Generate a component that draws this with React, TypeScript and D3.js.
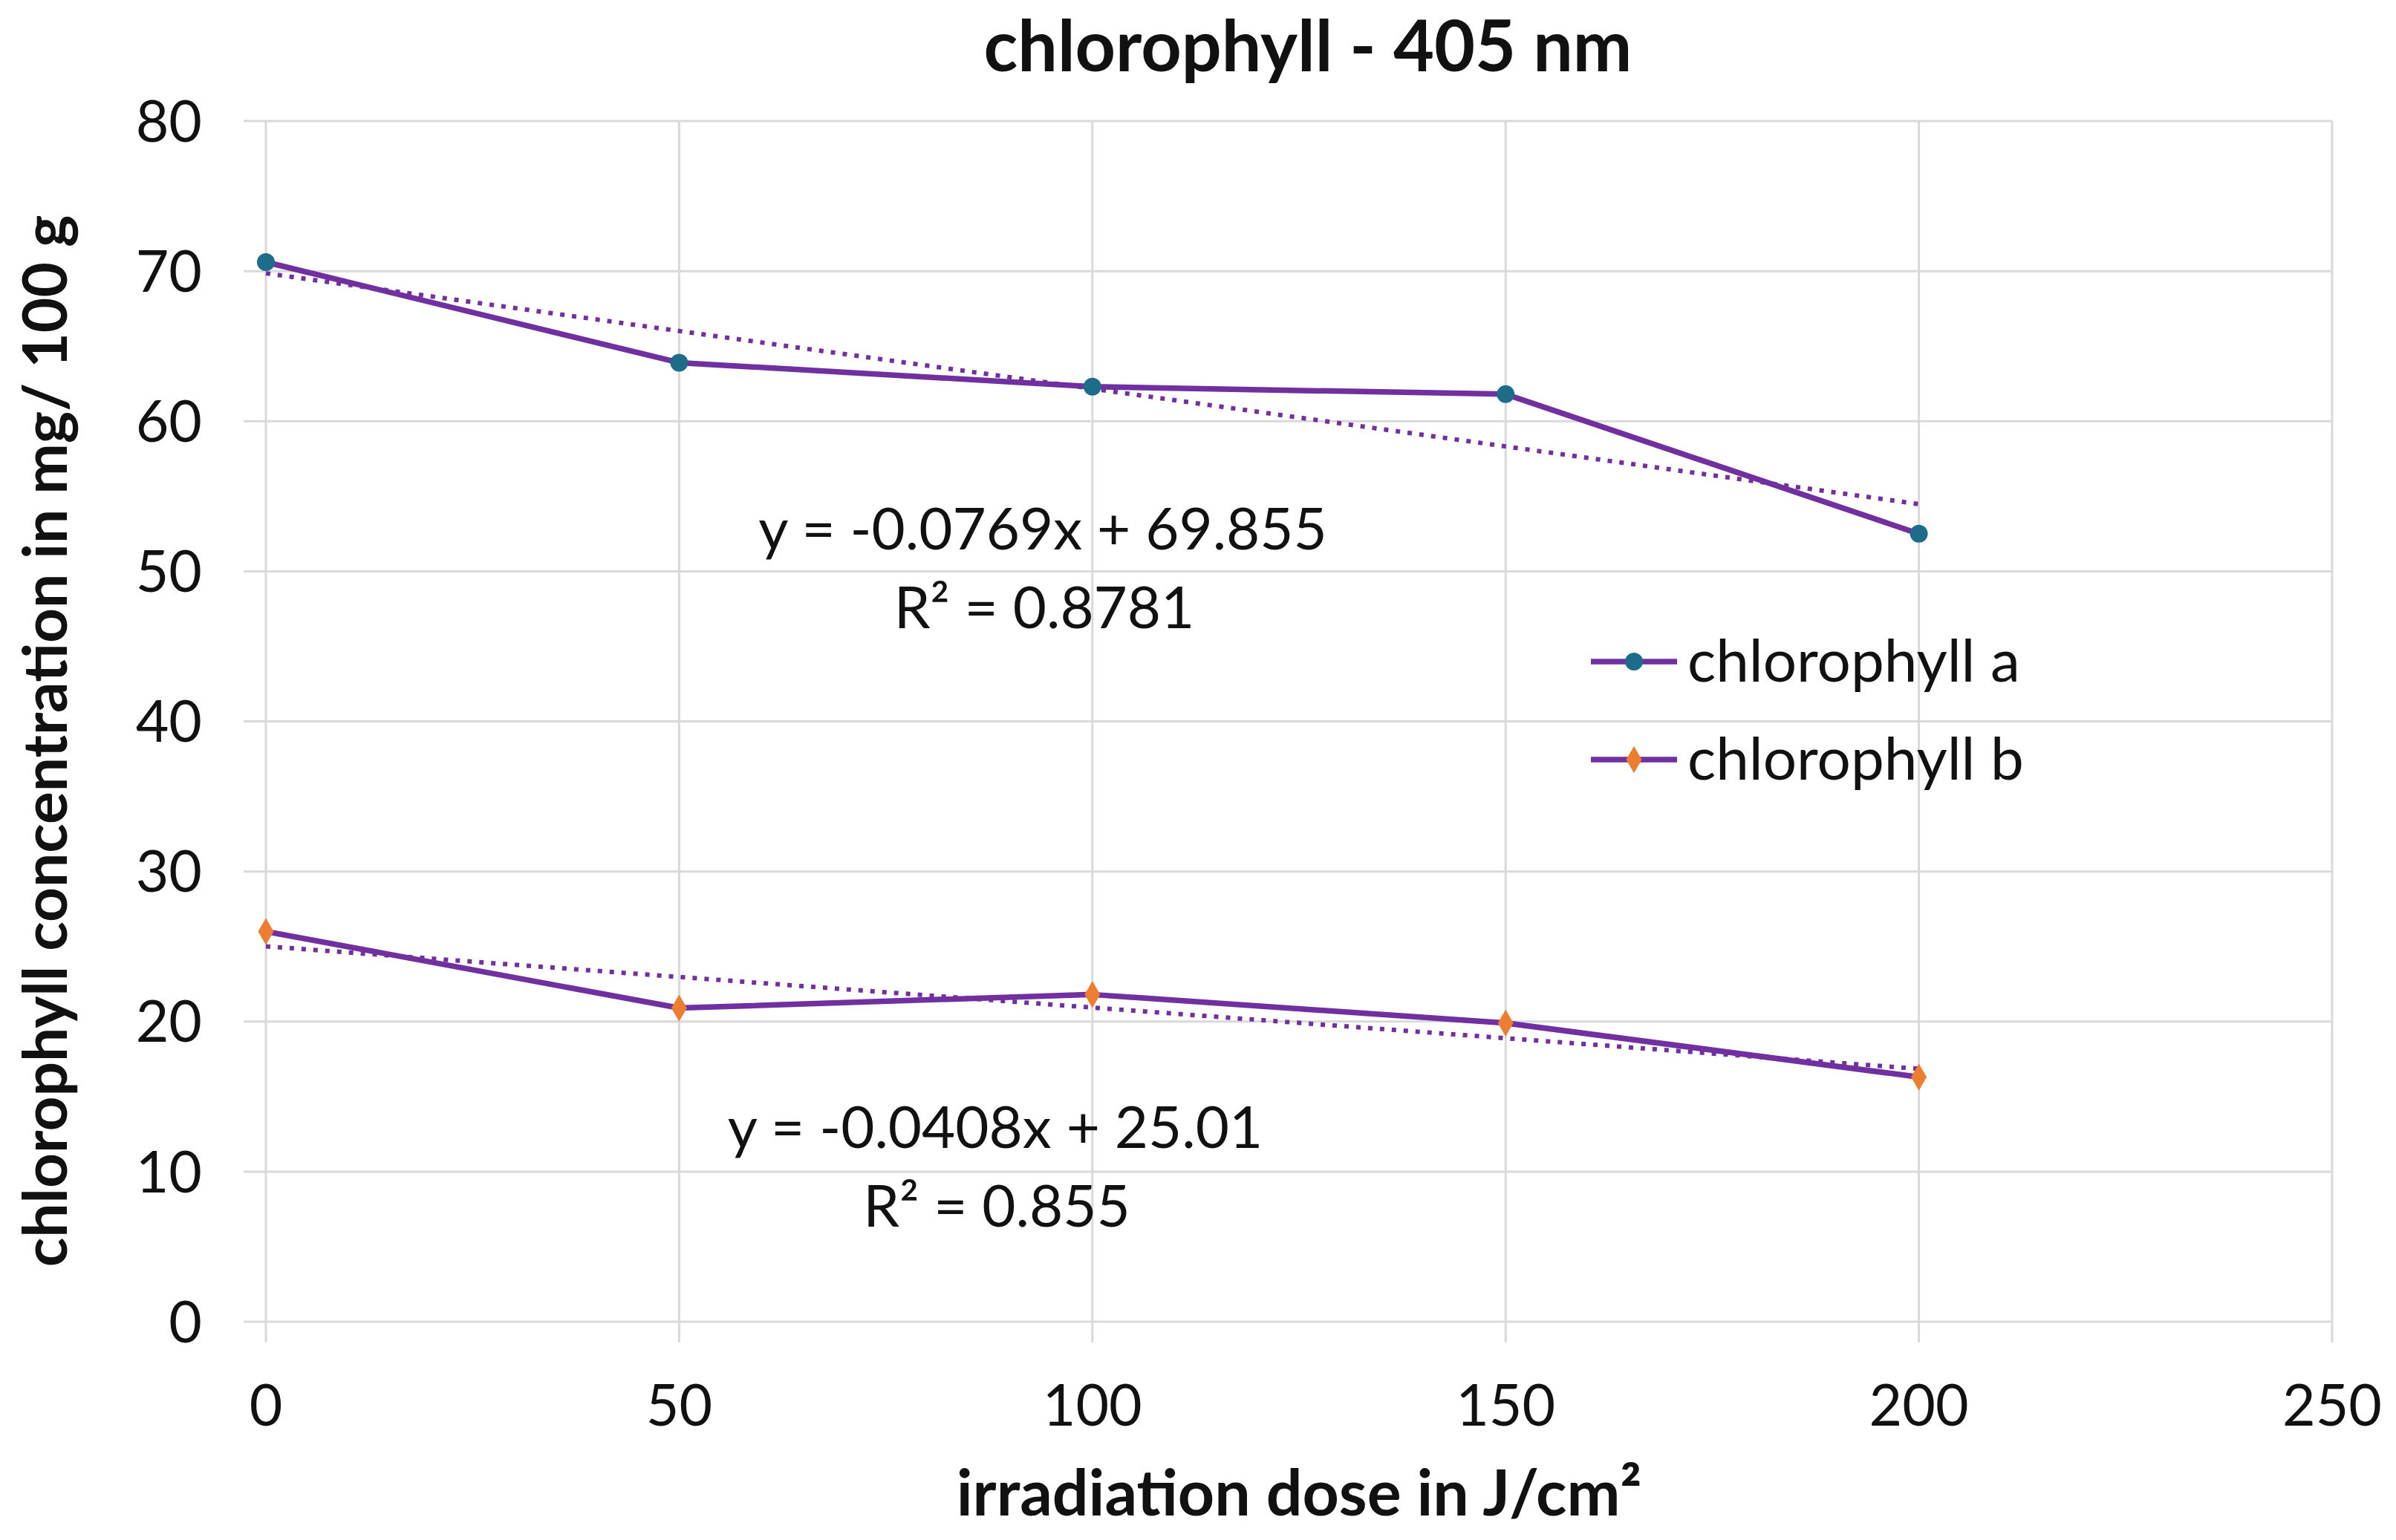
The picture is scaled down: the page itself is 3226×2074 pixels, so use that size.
import * as d3 from 'd3'

// irradiation dose (J/cm²)
const doses = [0, 50, 100, 150, 200]
// chlorophyll concentration (mg / 100 g)
const chlA = [70.6, 63.9, 62.3, 61.8, 52.5]
const chlB = [26.0, 20.9, 21.8, 19.9, 16.3]

const xTicks = [0, 50, 100, 150, 200, 250]
const yTicks = [0, 10, 20, 30, 40, 50, 60, 70, 80]

// linear trendlines as printed on the chart
const trendSlopes = [-0.0769, -0.0408]
const trendIntercepts = [69.855, 25.01]
const trendEquations = ['y = -0.0769x + 69.855', 'y = -0.0408x + 25.01']
const trendR2 = ['R² = 0.8781', 'R² = 0.855']

const seriesNames = ['chlorophyll a', 'chlorophyll b']

const W = 3226
const H = 2074
const margin = { top: 163, right: 86, bottom: 294, left: 358 }

const LINE = '#7030a0'
const MARK_A = '#1c6c8a'
const MARK_B = '#ed7d31'
const GRID = '#d9d9d9'
const FONT = 'Lato, "Open Sans", sans-serif'

export default function App() {
  const x = d3.scaleLinear().domain([0, 250]).range([margin.left, W - margin.right])
  const y = d3.scaleLinear().domain([0, 80]).range([H - margin.bottom, margin.top])

  const line = d3.line<number>()
    .x((_, i) => x(doses[i]))
    .y(d => y(d))

  const seriesData = [chlA, chlB]
  const diamond = d3.symbol().type(d3.symbolDiamond).size(380)

  const trendPath = (k: number) => {
    const x0 = doses[0]
    const x1 = doses[doses.length - 1]
    return `M${x(x0)},${y(trendIntercepts[k] + trendSlopes[k] * x0)}L${x(x1)},${y(trendIntercepts[k] + trendSlopes[k] * x1)}`
  }

  const marker = (k: number, cx: number, cy: number, key: string) =>
    k === 0
      ? <circle key={key} cx={cx} cy={cy} r={12} fill={MARK_A} />
      : <path key={key} d={diamond() || ''} transform={`translate(${cx},${cy})`} fill={MARK_B} />

  // label anchor positions (chart space) for the trend equations
  const eqPos = [
    { x: 1404, y: 740 },
    { x: 1340, y: 1546 },
  ]

  const legendX = 2142
  const legendY = [891, 1023]

  return (
    <div style={{ position: 'absolute', left: 0, top: 0 }}>
      <svg width={W} height={H} style={{ display: 'block', background: '#fff' }} fontFamily={FONT}>
        {/* grid */}
        <g>
          {yTicks.map(t => (
            <line key={'h' + t} x1={x(0) - 30} x2={x(250)} y1={y(t)} y2={y(t)} stroke={GRID} strokeWidth={3} />
          ))}
          {xTicks.map(t => (
            <line key={'v' + t} x1={x(t)} x2={x(t)} y1={y(80)} y2={y(0) + 28} stroke={GRID} strokeWidth={3} />
          ))}
        </g>

        {/* y tick labels */}
        {yTicks.map(t => (
          <text key={'yl' + t} x={272} y={y(t)} dy="0.36em" textAnchor="end" fontSize={77} fill="#111">{t}</text>
        ))}
        {/* x tick labels */}
        {xTicks.map(t => (
          <text key={'xl' + t} x={x(t)} y={1920} textAnchor="middle" fontSize={77} fill="#111">{t}</text>
        ))}

        {/* trendlines */}
        {[0, 1].map(k => (
          <path key={'t' + k} d={trendPath(k)} fill="none" stroke={LINE} strokeWidth={6} strokeDasharray="6 10" />
        ))}

        {/* series lines and markers */}
        {seriesData.map((s, k) => (
          <g key={'s' + k}>
            <path d={line(s) || ''} fill="none" stroke={LINE} strokeWidth={7.5} strokeLinejoin="round" />
            {s.map((v, i) => marker(k, x(doses[i]), y(v), `m${k}-${i}`))}
          </g>
        ))}

        {/* trend equations */}
        {[0, 1].map(k => (
          <g key={'eq' + k} fontSize={78} fill="#111" textAnchor="middle">
            <text x={eqPos[k].x} y={eqPos[k].y}>{trendEquations[k]}</text>
            <text x={eqPos[k].x + 2} y={eqPos[k].y + 106}>{trendR2[k]}</text>
          </g>
        ))}

        {/* legend */}
        {seriesNames.map((name, k) => (
          <g key={'lg' + k}>
            <line x1={legendX} x2={legendX + 116} y1={legendY[k]} y2={legendY[k]} stroke={LINE} strokeWidth={7.5} />
            {marker(k, legendX + 58, legendY[k], 'lm' + k)}
            <text x={legendX + 130} y={legendY[k] + 27} fontSize={80} fill="#111">{name}</text>
          </g>
        ))}

        {/* titles */}
        <text x={1761} y={96} textAnchor="middle" fontSize={95} fontWeight="bold" fill="#111">chlorophyll - 405 nm</text>
        <text x={1749} y={2041} textAnchor="middle" fontSize={86} fontWeight="bold" fill="#111">irradiation dose in J/cm²</text>
        <text transform={`translate(90,998) rotate(-90)`} textAnchor="middle" fontSize={82} fontWeight="bold" fill="#111">
          chlorophyll concentration in mg/ 100 g
        </text>
      </svg>
    </div>
  )
}
